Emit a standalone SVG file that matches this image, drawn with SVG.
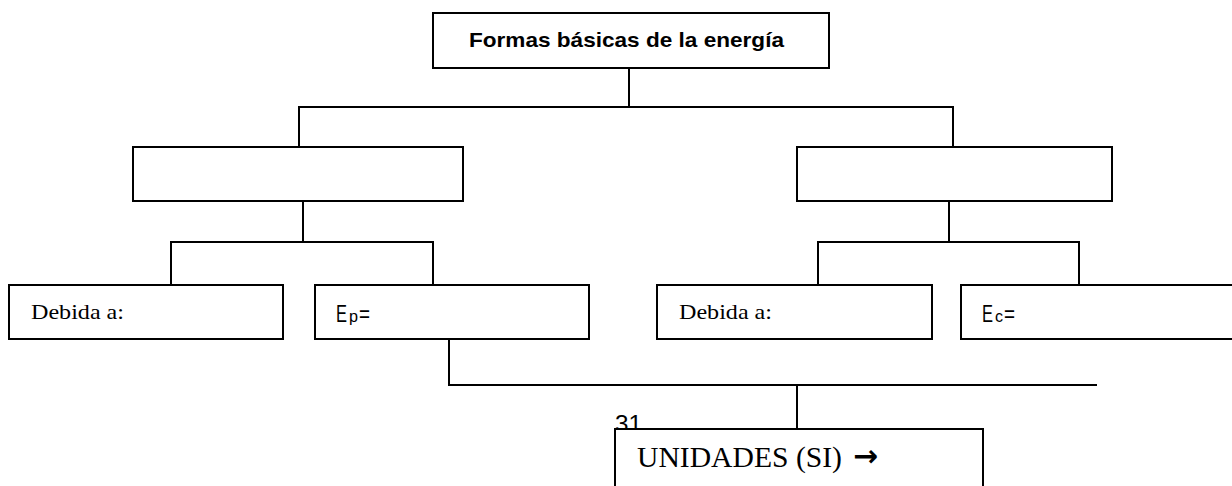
<svg xmlns="http://www.w3.org/2000/svg" width="1232" height="486" viewBox="0 0 1232 486">
  <style>
    .box { fill: #ffffff; stroke: #000000; stroke-width: 2; }
    .conn { fill: none; stroke: #000000; stroke-width: 2; }
    .sans { font-family: "Liberation Sans", Arial, sans-serif; fill: #000000; }
    .serif { font-family: "Liberation Serif", "Times New Roman", serif; fill: #000000; }
    .eq { font-family: "Liberation Sans", Arial, sans-serif; fill: #000000; font-size: 24px; }
    .sub { font-family: "Liberation Sans", Arial, sans-serif; fill: #000000; font-size: 16px; }
  </style>
  <rect x="0" y="0" width="1232" height="486" fill="#ffffff"/>

  <g id="connectors">
    <path class="conn" d="M629,68 V107"/>
    <path class="conn" d="M299,147 V107 H953 V147"/>
    <path class="conn" d="M303,201 V242"/>
    <path class="conn" d="M171,285 V242 H433 V285"/>
    <path class="conn" d="M949,201 V242"/>
    <path class="conn" d="M818,285 V242 H1079 V285"/>
    <path class="conn" d="M449,339 V385 H1097"/>
    <path class="conn" d="M797,385 V429"/>
  </g>

  <g id="page-number">
    <text class="sans" x="615" y="432" font-size="23" textLength="27" lengthAdjust="spacingAndGlyphs">31</text>
  </g>

  <g id="node-formas">
    <rect class="box" x="433" y="13" width="396" height="55"/>
    <text class="sans" x="469" y="47" font-size="21" font-weight="bold" textLength="315" lengthAdjust="spacingAndGlyphs">Formas básicas de la energía</text>
  </g>

  <g id="node-left">
    <rect class="box" x="133" y="147" width="330" height="54"/>
  </g>

  <g id="node-right">
    <rect class="box" x="797" y="147" width="315" height="54"/>
  </g>

  <g id="node-debida-left">
    <rect class="box" x="9" y="285" width="274" height="54"/>
    <text class="serif" x="31" y="319" font-size="22" textLength="93" lengthAdjust="spacingAndGlyphs">Debida a:</text>
  </g>

  <g id="node-ep">
    <rect class="box" x="315" y="285" width="274" height="54"/>
    <text class="eq" x="336" y="322" textLength="11" lengthAdjust="spacingAndGlyphs">E</text>
    <text class="sub" x="349" y="322" textLength="9" lengthAdjust="spacingAndGlyphs">p</text>
    <text class="eq" x="359" y="322" textLength="11" lengthAdjust="spacingAndGlyphs">=</text>
  </g>

  <g id="node-debida-right">
    <rect class="box" x="657" y="285" width="275" height="54"/>
    <text class="serif" x="679" y="319" font-size="22" textLength="93" lengthAdjust="spacingAndGlyphs">Debida a:</text>
  </g>

  <g id="node-ec">
    <rect class="box" x="961" y="285" width="290" height="54"/>
    <text class="eq" x="982" y="322" textLength="11" lengthAdjust="spacingAndGlyphs">E</text>
    <text class="sub" x="995" y="322" textLength="8" lengthAdjust="spacingAndGlyphs">c</text>
    <text class="eq" x="1004" y="322" textLength="11" lengthAdjust="spacingAndGlyphs">=</text>
  </g>

  <g id="node-unidades">
    <rect class="box" x="615" y="429" width="368" height="70"/>
    <text class="serif" x="637" y="467" font-size="29" textLength="205" lengthAdjust="spacingAndGlyphs">UNIDADES (SI)</text>
    <text x="853" y="466" font-family="DejaVu Sans, sans-serif" font-weight="bold" font-size="30" textLength="25" lengthAdjust="spacingAndGlyphs">→</text>
  </g>
</svg>
